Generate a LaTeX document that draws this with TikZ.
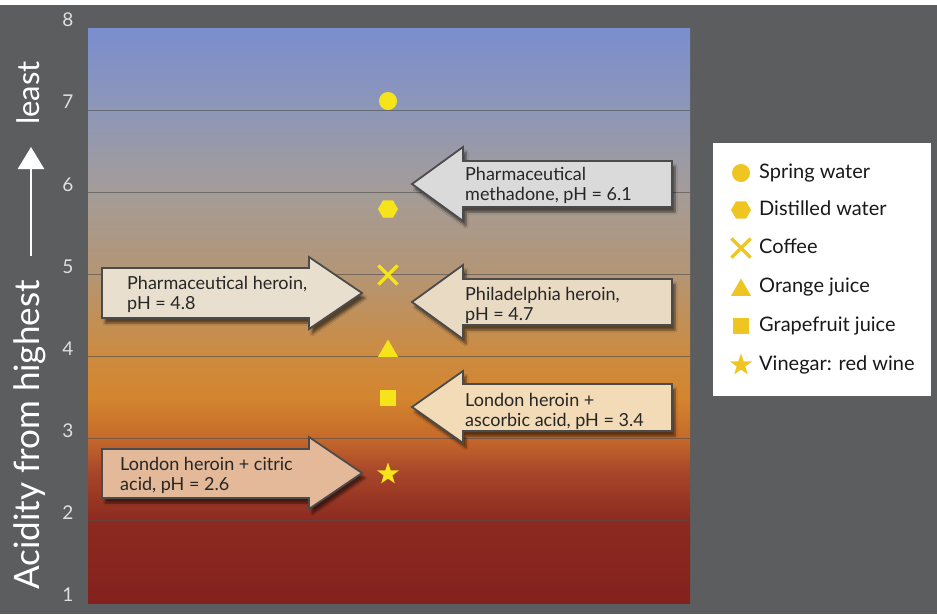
\documentclass[tikz,border=0pt]{standalone}
\usepackage{fontspec}
\setmainfont{Lato}
\usetikzlibrary{positioning, shapes.geometric, shapes.misc, arrows.meta, shadows.blur}

\definecolor{bggray}{HTML}{5C5D5F}
\definecolor{plotyellow}{HTML}{F6E41A}
\definecolor{keyyellow}{HTML}{EFC521}
\definecolor{arrowline}{HTML}{4B4B4B}
\definecolor{textdark}{HTML}{262626}
\definecolor{methfill}{HTML}{DADADA}
\definecolor{pharmfill}{HTML}{E9DFCF}
\definecolor{philfill}{HTML}{E9DAC4}
\definecolor{ascorbfill}{HTML}{F2DBB6}
\definecolor{citrfill}{HTML}{E3B999}
% colours of the acidity scale, bottom to top
\definecolor{phA}{HTML}{84211D}
\definecolor{phB}{HTML}{8C2A20}
\definecolor{phC}{HTML}{A8462A}
\definecolor{phD}{HTML}{C4692A}
\definecolor{phE}{HTML}{D4852F}
\definecolor{phF}{HTML}{CD8B3F}
\definecolor{phG}{HTML}{B49574}
\definecolor{phH}{HTML}{A49C98}
\definecolor{phI}{HTML}{8E97B8}
\definecolor{phJ}{HTML}{7A8ECF}
\pgfdeclareverticalshading{acidscale}{100bp}{color(0bp)=(phA); color(25bp)=(phA);
  color(32.14bp)=(phB); color(36.43bp)=(phC); color(39.29bp)=(phD);
  color(42.86bp)=(phE); color(46.43bp)=(phF); color(53.57bp)=(phG);
  color(60.71bp)=(phH); color(67.86bp)=(phI); color(75bp)=(phJ); color(100bp)=(phJ)}

\begin{document}
\begin{tikzpicture}[x=1pt, y=-1pt]
\tikzstyle{gridline} = [draw=black!70, opacity=.6, line width=.8pt]
\tikzstyle{ticklabel} = [text=white!88!black, font=\fontsize{19}{21}\selectfont, inner sep=0pt]
\tikzstyle{axistitle} = [text=white, rotate=90, inner sep=0pt, text height=24pt, text depth=7pt]
\tikzstyle{titlearrow} = [white, line width=2.7pt, -{Triangle[length=22pt, width=26pt]}]
\tikzstyle{callout} = [fill=#1, draw=arrowline, line width=1.8pt, line join=miter, blur shadow={shadow xshift=3pt, shadow yshift=-5pt, shadow opacity=55, shadow blur steps=6}]
\tikzstyle{callouttext} = [anchor=west, align=left, font=\fontsize{18}{20}\selectfont, text=textdark, inner sep=0pt]
\tikzstyle{keytext} = [anchor=west, font=\fontsize{20}{22}\selectfont, text=black!90, inner sep=0pt, text height=14pt, text depth=4pt]
\tikzset{
  springmk/.style={circle, fill=#1, minimum size=18pt, inner sep=0pt},
  distmk/.style={regular polygon, regular polygon sides=6, fill=#1, minimum size=20pt, inner sep=0pt},
  coffeemk/.style={cross out, draw=#1, line width=3.2pt, minimum size=16pt, inner sep=0pt},
  orangemk/.style={regular polygon, regular polygon sides=3, fill=#1, minimum size=23pt, inner sep=0pt},
  grapemk/.style={rectangle, fill=#1, minimum size=16pt, inner sep=0pt},
  vinegarmk/.style={star, star points=5, star point ratio=2.5, fill=#1, minimum size=23pt, inner sep=0pt},
}

\useasboundingbox (0,0) rectangle (937,614);
\fill[white] (0,0) rectangle (937,5);
\fill[bggray] (0,5) rectangle (937,614);

% plot area
\shade[shading=acidscale] (88,28) rectangle (690,603);
\foreach \v in {2,...,7}
  \draw[gridline] (88,{28+(8-\v)*82.14}) -- (690,{28+(8-\v)*82.14});
\foreach \v in {1,...,8}
  \node[ticklabel] (tick\v) at (68,{20+(8-\v)*82.14}) {\v};

% axis title
\node[axistitle, font=\fontsize{35}{38}\selectfont] (acidtitle) at (31,435) {Acidity from highest};
\node[axistitle, font=\fontsize{31}{34}\selectfont] (leasttitle) at (31,93) {least};
\draw[titlearrow, shorten <=24pt, shorten >=22pt] (acidtitle) -- (leasttitle);

% samples
\node[springmk=plotyellow] (spring) at (388,101) {};
\node[distmk=plotyellow] (distilled) at (388,209) {};
\node[coffeemk=plotyellow] (coffee) at (388,275) {};
\node[orangemk=plotyellow] (orange) at (388,351) {};
\node[grapemk=plotyellow] (grapefruit) at (388,398) {};
\node[vinegarmk=plotyellow] (vinegar) at (388,474) {};

% callout arrows
\filldraw[callout=methfill] (672,161) -- (463,161) -- (463,147) -- (412,184) -- (463,221) -- (463,207) -- (672,207) -- cycle;
\node[callouttext] (methtxt) at (465,185) {Pharmaceutical\\methadone, pH = 6.1};

\filldraw[callout=pharmfill] (102,268) -- (309,268) -- (309,257) -- (362,293) -- (309,329) -- (309,318) -- (102,318) -- cycle;
\node[callouttext] (pharmtxt) at (127,294) {Pharmaceutical heroin,\\pH = 4.8};

\filldraw[callout=philfill] (672,279) -- (463,279) -- (463,265) -- (412,302) -- (463,339) -- (463,325) -- (672,325) -- cycle;
\node[callouttext] (philtxt) at (465,305) {Philadelphia heroin,\\pH = 4.7};

\filldraw[callout=ascorbfill] (672,384) -- (463,384) -- (463,371) -- (412,407) -- (463,443) -- (463,431) -- (672,431) -- cycle;
\node[callouttext] (ascorbtxt) at (465,411) {London heroin +\\ascorbic acid, pH = 3.4};

\filldraw[callout=citrfill] (102,449) -- (309,449) -- (309,437) -- (362,473) -- (309,509) -- (309,498) -- (102,498) -- cycle;
\node[callouttext] (citrtxt) at (120,475) {London heroin + citric\\acid, pH = 2.6};

% legend
\fill[white] (713,143) rectangle (931,396);
\node[springmk=keyyellow] (keyspring) at (741,173) {};
\node[keytext] (keyspringtxt) at (759,173) {Spring water};
\node[distmk=keyyellow] (keydist) at (741,210) {};
\node[keytext] (keydisttxt) at (759,210) {Distilled water};
\node[coffeemk=keyyellow] (keycoffee) at (741,248) {};
\node[keytext] (keycoffeetxt) at (759,248) {Coffee};
\node[orangemk=keyyellow] (keyorange) at (741,290) {};
\node[keytext] (keyorangetxt) at (759,287) {Orange juice};
\node[grapemk=keyyellow] (keygrape) at (741,326) {};
\node[keytext] (keygrapetxt) at (759,326) {Grapefruit juice};
\node[vinegarmk=keyyellow] (keyvinegar) at (741,365) {};
\node[keytext] (keyvinegartxt) at (759,365) {Vinegar: red wine};
\end{tikzpicture}
\end{document}
